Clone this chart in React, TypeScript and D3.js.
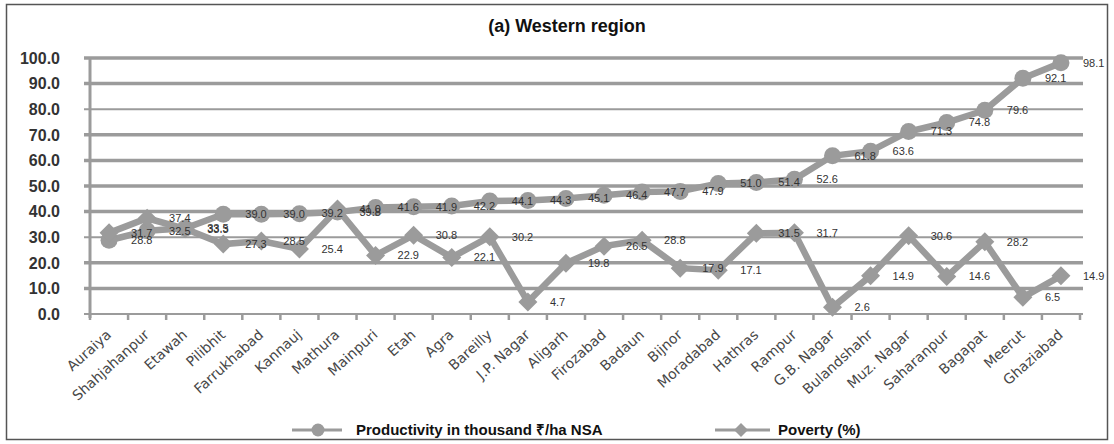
import React from "react";
import * as d3 from "d3";

const categories = [
  "Auraiya", "Shahjahanpur", "Etawah", "Pilibhit", "Farrukhabad", "Kannauj",
  "Mathura", "Mainpuri", "Etah", "Agra", "Bareilly", "J.P. Nagar", "Aligarh",
  "Firozabad", "Badaun", "Bijnor", "Moradabad", "Hathras", "Rampur",
  "G.B. Nagar", "Bulandshahr", "Muz. Nagar", "Saharanpur", "Bagapat",
  "Meerut", "Ghaziabad",
];

const productivity = [
  28.8, 32.5, 33.5, 39.0, 39.0, 39.2, 39.8, 41.6, 41.9, 42.2, 44.1, 44.3, 45.1,
  46.4, 47.7, 47.9, 51.0, 51.4, 52.6, 61.8, 63.6, 71.3, 74.8, 79.6, 92.1, 98.1,
];

const poverty = [
  31.7, 37.4, 33.3, 27.3, 28.5, 25.4, 41.0, 22.9, 30.8, 22.1, 30.2, 4.7, 19.8,
  26.5, 28.8, 17.9, 17.1, 31.5, 31.7, 2.6, 14.9, 30.6, 14.6, 28.2, 6.5, 14.9,
];

const yTicks = [0, 10, 20, 30, 40, 50, 60, 70, 80, 90, 100];

const title = "(a) Western region";
const legendProductivity = "Productivity in thousand \u20B9/ha NSA";
const legendPoverty = "Poverty (%)";

const W = 1114;
const H = 444;
const GREY = "#9b9b9b";
const FONT = "'Liberation Sans', Arial, sans-serif";

export default function App() {
  const x = d3
    .scaleBand<string>()
    .domain(categories)
    .range([90, 1080])
    .paddingInner(0)
    .paddingOuter(0);
  const y = d3.scaleLinear().domain([0, 100]).range([314, 58]);
  const cx = (c: string) => (x(c) as number) + x.bandwidth() / 2;

  const line = d3
    .line<number>()
    .x((_, i) => cx(categories[i]))
    .y((d) => y(d));

  const diamond = (px: number, py: number, r: number) =>
    `M${px},${py - r}L${px + r},${py}L${px},${py + r}L${px - r},${py}Z`;

  const boundaries = categories.map((c) => x(c) as number).concat([1080]);

  return (
    <svg
      width={W}
      height={H}
      style={{ position: "absolute", left: 0, top: 0, background: "#fff" }}
      fontFamily={FONT}
    >
      <rect x={0} y={0} width={W} height={H} fill="#fff" />
      <rect
        x={6.5}
        y={4.5}
        width={1101}
        height={435}
        fill="none"
        stroke="#555"
        strokeWidth={1.5}
      />
      <text
        x={567}
        y={32}
        textAnchor="middle"
        fontSize={18}
        fontWeight="bold"
        fill="#111"
      >
        {title}
      </text>

      {/* gridlines */}
      {yTicks.map((t) => (
        <line
          key={"g" + t}
          x1={84}
          x2={1083}
          y1={y(t)}
          y2={y(t)}
          stroke={GREY}
          strokeWidth={t === 80 || t === 30 || t === 0 ? 2 : 3.5}
        />
      ))}
      {/* y axis */}
      <line x1={90} x2={90} y1={y(100)} y2={y(0) + 4} stroke={GREY} strokeWidth={3} />
      {yTicks.map((t) => (
        <text
          key={"yt" + t}
          x={60}
          y={y(t)}
          dy="0.36em"
          textAnchor="end"
          fontSize={16}
          fontWeight="bold"
          fill="#333"
        >
          {t.toFixed(1)}
        </text>
      ))}
      {/* x ticks */}
      {boundaries.map((b, i) => (
        <line
          key={"xt" + i}
          x1={b}
          x2={b}
          y1={y(0)}
          y2={y(0) + 6}
          stroke={GREY}
          strokeWidth={2.5}
        />
      ))}
      {categories.map((c) => (
        <text
          key={"xl" + c}
          transform={`translate(${cx(c) + 3},${y(0) + 22}) rotate(-42)`}
          textAnchor="end"
          fontSize={14}
          fontFamily="'DejaVu Sans', Verdana, sans-serif"
          fill="#474747"
        >
          {c}
        </text>
      ))}

      {/* productivity series */}
      <path d={line(productivity) || ""} fill="none" stroke={GREY} strokeWidth={6.5} />
      {productivity.map((v, i) => (
        <circle key={"pc" + i} cx={cx(categories[i])} cy={y(v)} r={8.5} fill={GREY} />
      ))}
      {/* poverty series */}
      <path d={line(poverty) || ""} fill="none" stroke={GREY} strokeWidth={6.5} />
      {poverty.map((v, i) => (
        <path key={"pd" + i} d={diamond(cx(categories[i]), y(v), 9.5)} fill={GREY} />
      ))}

      {/* data labels */}
      {productivity.map((v, i) => (
        <text
          key={"lp" + i}
          x={cx(categories[i]) + 22}
          y={y(v)}
          dy="0.35em"
          fontSize={11}
          fill="#333"
        >
          {v.toFixed(1)}
        </text>
      ))}
      {poverty.map((v, i) => (
        <text
          key={"lv" + i}
          x={cx(categories[i]) + 22}
          y={y(v)}
          dy="0.35em"
          fontSize={11}
          fill="#333"
        >
          {v.toFixed(1)}
        </text>
      ))}

      {/* legend */}
      <line x1={292} x2={342} y1={430} y2={430} stroke={GREY} strokeWidth={3} />
      <circle cx={318} cy={430} r={6.5} fill={GREY} />
      <text x={356} y={430} dy="0.36em" fontSize={15} fontWeight="bold" fill="#111">
        {legendProductivity}
      </text>
      <line x1={715} x2={770} y1={430} y2={430} stroke={GREY} strokeWidth={3} />
      <path d={diamond(741, 430, 7)} fill={GREY} />
      <text x={778} y={430} dy="0.36em" fontSize={15} fontWeight="bold" fill="#111">
        {legendPoverty}
      </text>
    </svg>
  );
}
